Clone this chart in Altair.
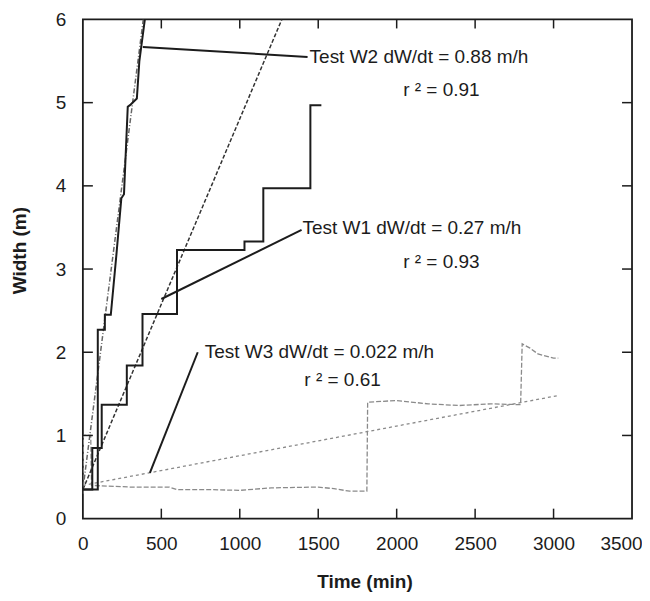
import altair as alt
import pandas as pd

# ---------------- data ----------------
# Test W2 (measured widths, step-like record)
w2_t = [0, 95, 95, 140, 140, 178, 215, 245, 262, 286, 300, 344, 360, 395]
w2_w = [0.35, 0.35, 2.27, 2.27, 2.45, 2.45, 3.2, 3.85, 3.9, 4.95, 4.97, 5.05, 5.5, 6.0]

# Test W1 (measured widths)
w1_t = [0, 60, 60, 120, 120, 280, 280, 380, 380, 600, 600, 1030, 1030, 1150, 1150, 1450, 1450, 1520]
w1_w = [0.35, 0.35, 0.85, 0.85, 1.37, 1.37, 1.84, 1.84, 2.46, 2.46, 3.23, 3.23, 3.33, 3.33, 3.97, 3.97, 4.97, 4.97]

# Test W3 (measured widths)
w3_t = [0, 3, 50, 55, 300, 550, 600, 800, 1000, 1200, 1500, 1600, 1700, 1810, 1815, 2000, 2200,
        2400, 2600, 2790, 2800, 2850, 2900, 3000, 3030]
w3_w = [0.3, 1.0, 1.0, 0.4, 0.38, 0.38, 0.35, 0.35, 0.34, 0.37, 0.38, 0.36, 0.33, 0.33, 1.4,
        1.42, 1.38, 1.36, 1.38, 1.37, 2.1, 2.05, 1.98, 1.93, 1.93]

# Linear fits (end points)
fit2_t = [0, 385]
fit2_w = [0.35, 6.0]
fit1_t = [0, 1268]
fit1_w = [0.35, 6.0]
fit3_t = [0, 3030]
fit3_w = [0.40, 1.48]

# Leader lines (start, end)
lead2_t = [382, 1432]
lead2_w = [5.67, 5.55]
lead1_t = [500, 1394]
lead1_w = [2.64, 3.47]
lead3_t = [427, 732]
lead3_w = [0.55, 2.0]

# Annotation texts
lab_text = ["Test W2 dW/dt = 0.88 m/h", "Test W1 dW/dt = 0.27 m/h", "Test W3 dW/dt = 0.022 m/h"]
lab_t = [1445, 1400, 777]
lab_w = [5.546, 3.49, 2.0]
r2_text = ["r ² = 0.91", "r ² = 0.93", "r ² = 0.61"]
r2_t = [2285, 2285, 1655]
r2_w = [5.15, 3.09, 1.67]

x_ticks = [0, 500, 1000, 1500, 2000, 2500, 3000, 3500]
y_ticks = [0, 1, 2, 3, 4, 5, 6]
inner_x_ticks = [500, 1000, 1500, 2000, 2500, 3000]
inner_y_ticks = [1, 2, 3, 4, 5]

# ---------------- chart ----------------
W, H = 550, 500
FONT = "Liberation Sans"
DARK = "#1c1c1c"
GREY = "#8a8a8a"

xs = alt.Scale(domain=[0, 3500], nice=False, zero=False)
ys = alt.Scale(domain=[0, 6], nice=False, zero=False)

X_AXIS = alt.Axis(values=x_ticks, format="d", grid=False, domain=False, ticks=False,
                  labelFlush=False, labelOverlap=False,
                  labelOffset={"condition": {"test": "datum.value == 3500", "value": -11}, "value": 0},
                  labelFont=FONT, labelFontSize=19, labelColor=DARK, labelPadding=16,
                  titleFont=FONT, titleFontSize=19, titleFontWeight="bold",
                  titleColor=DARK, titleX=282, titleY=63, titleBaseline="middle")
Y_AXIS = alt.Axis(values=y_ticks, format="d", grid=False, domain=False, ticks=False,
                  labelFlush=False, labelOverlap=False,
                  labelFont=FONT, labelFontSize=19, labelColor=DARK, labelPadding=17,
                  titleFont=FONT, titleFontSize=19, titleFontWeight="bold",
                  titleColor=DARK, titleX=-63, titleY=231, titleBaseline="middle")


def X():
    return alt.X("t:Q", scale=xs, title="Time (min)", axis=X_AXIS)


def Y():
    return alt.Y("w:Q", scale=ys, title="Width (m)", axis=Y_AXIS)


def line_df(t, w):
    return pd.DataFrame({"t": t, "w": w, "i": list(range(len(t)))})


def line(t, w, color, width, dash=None):
    kw = dict(color=color, strokeWidth=width, clip=True)
    if dash:
        kw["strokeDash"] = dash
    return alt.Chart(line_df(t, w)).mark_line(**kw).encode(x=X(), y=Y(), order="i:Q")


layers = [
    line(w3_t, w3_w, GREY, 1.3, [5, 2]),
    line(fit3_t, fit3_w, GREY, 1.3, [3, 3]),
    line(fit2_t, fit2_w, "#666666", 1.5, [5, 2, 1, 2]),
    line(fit1_t, fit1_w, "#333333", 1.5, [4, 2]),
    line(w2_t, w2_w, DARK, 2),
    line(w1_t, w1_w, DARK, 2),
    line(lead2_t, lead2_w, DARK, 2),
    line(lead1_t, lead1_w, DARK, 2),
    line(lead3_t, lead3_w, DARK, 2),
]

lab_df = pd.DataFrame({"t": lab_t, "w": lab_w, "txt": lab_text})
labels = alt.Chart(lab_df).mark_text(align="left", baseline="middle", font=FONT, fontSize=19,
                                     color=DARK).encode(x=X(), y=Y(), text="txt:N")

r2_df = pd.DataFrame({"t": r2_t, "w": r2_w, "txt": r2_text})
r2 = alt.Chart(r2_df).mark_text(align="center", baseline="middle", font=FONT, fontSize=19,
                                color=DARK).encode(x=X(), y=Y(), text="txt:N")

xt = pd.DataFrame({"t": inner_x_ticks})
yt = pd.DataFrame({"w": inner_y_ticks})
tick_bottom = alt.Chart(xt).mark_rule(color=DARK, strokeWidth=1.5).encode(
    x=X(), y=alt.value(H), y2=alt.value(H - 10))
tick_top = alt.Chart(xt).mark_rule(color=DARK, strokeWidth=1.5).encode(
    x=X(), y=alt.value(0), y2=alt.value(9))
tick_left = alt.Chart(yt).mark_rule(color=DARK, strokeWidth=1.5).encode(
    y=Y(), x=alt.value(0), x2=alt.value(10))
tick_right = alt.Chart(yt).mark_rule(color=DARK, strokeWidth=1.5).encode(
    y=Y(), x=alt.value(W), x2=alt.value(W - 10))

chart = alt.layer(*layers, tick_bottom, tick_top, tick_left, tick_right, labels, r2).properties(
    width=W, height=H,
    background="white",
    autosize=alt.AutoSizeParams(type="none"),
    padding={"left": 75, "top": 11, "right": 10, "bottom": 74},
).configure_view(stroke=DARK, strokeWidth=1.8)

chart.save("out.html", embed_options={"renderer": "svg", "actions": False})
